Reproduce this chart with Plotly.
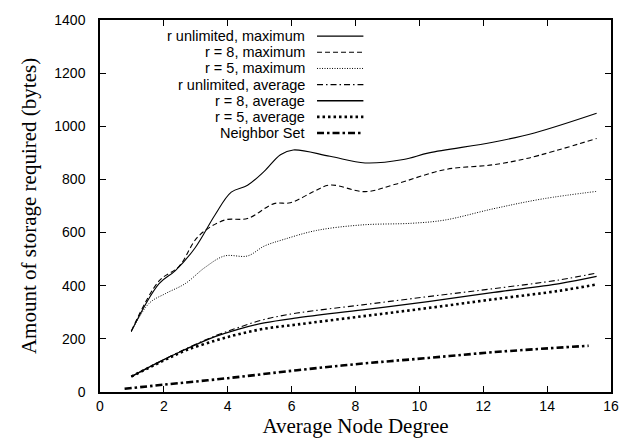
import plotly.graph_objects as go

# ---- data ----
x_max = [0.98, 1.85, 2.36, 2.98, 3.6, 4.11, 4.62, 5.14, 5.65, 6.05, 7.2, 8.3, 9.5, 10.3, 12.3, 13.6, 15.55]
unl_max = [229, 408, 457, 543, 666, 752, 778, 830, 893, 911, 887, 862, 875, 900, 940, 975, 1049]

x_r8max = [0.98, 1.85, 2.47, 3.08, 3.9, 4.62, 5.45, 5.96, 6.7, 7.2, 8.3, 9.25, 10.8, 12.3, 13.4, 15.55]
r8_max = [229, 418, 472, 586, 647, 653, 709, 712, 755, 779, 754, 782, 837, 855, 880, 954]

x_r5max = [0.98, 1.54, 2.06, 2.67, 3.29, 3.9, 4.62, 5.14, 5.75, 6.78, 8.22, 9.76, 10.79, 12.33, 13.87, 15.55]
r5_max = [226, 334, 371, 408, 469, 512, 512, 549, 574, 608, 629, 635, 647, 690, 727, 755]

x_avg = [0.98, 1.95, 2.67, 3.6, 4.32, 5.14, 6.17, 8.22, 10.27, 12.33, 14.39, 15.55]
unl_avg = [58, 119, 162, 211, 242, 273, 297, 328, 359, 389, 422, 448]
r8_avg = [58, 119, 160, 208, 236, 260, 279, 309, 340, 375, 408, 435]
r5_avg = [58, 116, 156, 193, 217, 238, 254, 285, 316, 349, 381, 405]

x_nbr = [0.77, 1.95, 4.0, 6.17, 8.22, 10.27, 12.33, 15.3]
nbr_set = [12, 27, 52, 82, 107, 128, 150, 174]

series = [
    ("r unlimited, maximum", x_max, unl_max, "solid", 1.1),
    ("r = 8, maximum", x_r8max, r8_max, "5px,3px", 1.1),
    ("r = 5, maximum", x_r5max, r5_max, "1px,1.5px", 1.0),
    ("r unlimited, average", x_avg, unl_avg, "6px,3px,1.5px,3px", 1.1),
    ("r = 8, average", x_avg, r8_avg, "solid", 1.3),
    ("r = 5, average", x_avg, r5_avg, "2.5px,3px", 2.6),
    ("Neighbor Set", x_nbr, nbr_set, "7px,3px,2.5px,3px", 2.6),
]

fig = go.Figure()
for name, xs, ys, dash, w in series:
    fig.add_trace(go.Scatter(x=xs, y=ys, mode="lines", name=name,
                             line=dict(color="black", width=w, dash=dash,
                                       shape="spline", smoothing=1.0),
                             showlegend=False))

# gnuplot-style key: text right-aligned, then line sample
L, R, T, B = 100, 618, 14, 394
W, H = R - L, B - T
row_y = [30.5, 47, 63.5, 80, 96.5, 113, 129.5]
for (name, xs, ys, dash, w), py in zip(series, row_y):
    yp = (B - py) / H
    fig.add_annotation(x=(309 - L) / W, y=yp, xref="paper", yref="paper",
                       text=name, showarrow=False, xanchor="right", yanchor="middle",
                       borderpad=0,
                       font=dict(family="Liberation Sans, Arial", size=14.5, color="black"))
    fig.add_shape(type="line", xref="paper", yref="paper",
                  x0=(320 - L) / W, x1=(367 - L) / W, y0=yp, y1=yp,
                  line=dict(color="black", width=w, dash=dash))

axis_common = dict(showgrid=False, zeroline=False, showline=True, linecolor="black",
                   linewidth=1.5, mirror="ticks", ticks="inside", ticklen=6,
                   tickwidth=1.2, tickcolor="black",
                   tickfont=dict(family="Liberation Sans, Arial", size=14, color="black"))

fig.update_xaxes(range=[0, 16], tickvals=[0, 2, 4, 6, 8, 10, 12, 14, 16],
                 title=dict(text="Average Node Degree", standoff=4,
                            font=dict(family="Liberation Serif, Times New Roman", size=21, color="black")),
                 **axis_common)
fig.update_yaxes(range=[0, 1400], tickvals=[0, 200, 400, 600, 800, 1000, 1200, 1400],
                 ticklabelstandoff=10,
                 title=dict(text="Amount of storage required (bytes)", standoff=12,
                            font=dict(family="Liberation Serif, Times New Roman", size=21, color="black")),
                 **axis_common)

fig.update_layout(width=631, height=444, margin=dict(l=L, r=631 - R, t=T, b=444 - B),
                  plot_bgcolor="white", paper_bgcolor="white", showlegend=False)

fig.write_html("out.html")
